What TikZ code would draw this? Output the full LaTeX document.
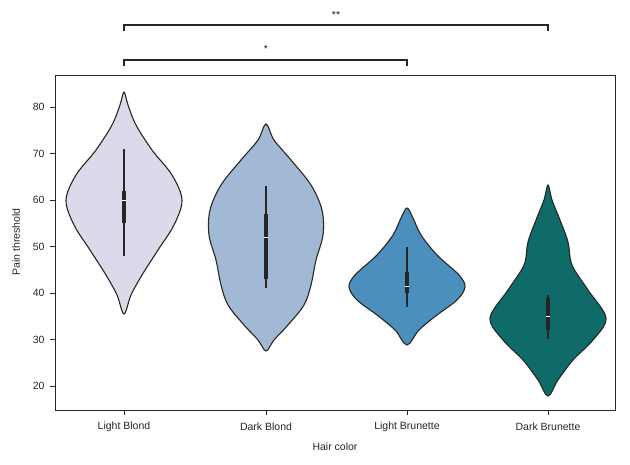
\documentclass[tikz,border=0pt]{standalone}
\usepackage{fontspec}
\setmainfont{Liberation Sans}
\definecolor{c1}{HTML}{DCDAEA}
\definecolor{c2}{HTML}{A1B9D4}
\definecolor{c3}{HTML}{4B90BC}
\definecolor{c4}{HTML}{0E6B68}
\definecolor{ink}{HTML}{262626}
\tikzset{violin/.style={draw=ink,line width=1.1pt,smooth cycle,tension=0.55},
 whisk/.style={ink,line width=1.4pt},
 iqr/.style={ink,line width=4.5pt},
 med/.style={white,line width=1pt},
 lab/.style={font=\fontsize{10.5}{12}\selectfont,text=ink},
 brk/.style={ink,line width=1.1pt}}
\begin{document}
\begin{tikzpicture}[x=1pt,y=-1pt]
\useasboundingbox (0,0) rectangle (630,464);
% violins
\fill[c1] plot[smooth cycle,tension=0.55] coordinates {(124,92)(128,105)(136,125)(152,150)(172,175)(182,200)(174,225)(158,250)(142,275)(131,295)(124,314)(117,295)(106,275)(90,250)(74,225)(66,200)(76,175)(96,150)(112,125)(120,105)};
\draw[violin] plot coordinates {(124,92)(128,105)(136,125)(152,150)(172,175)(182,200)(174,225)(158,250)(142,275)(131,295)(124,314)(117,295)(106,275)(90,250)(74,225)(66,200)(76,175)(96,150)(112,125)(120,105)};
\fill[c2] plot[smooth cycle,tension=0.55] coordinates {(266,124)(274,140)(291,160)(311,185)(322,210)(323,235)(316,260)(311,285)(304,305)(288,325)(274,340)(266,351)(258,340)(244,325)(228,305)(221,285)(216,260)(209,235)(210,210)(221,185)(241,160)(258,140)};
\draw[violin] plot coordinates {(266,124)(274,140)(291,160)(311,185)(322,210)(323,235)(316,260)(311,285)(304,305)(288,325)(274,340)(266,351)(258,340)(244,325)(228,305)(221,285)(216,260)(209,235)(210,210)(221,185)(241,160)(258,140)};
\fill[c3] plot[smooth cycle,tension=0.55] coordinates {(407,208)(413,218)(421,235)(437,255)(459,275)(465,287)(457,300)(437,315)(419,330)(407,345)(395,330)(377,315)(357,300)(349,287)(355,275)(377,255)(393,235)(401,218)};
\draw[violin] plot coordinates {(407,208)(413,218)(421,235)(437,255)(459,275)(465,287)(457,300)(437,315)(419,330)(407,345)(395,330)(377,315)(357,300)(349,287)(355,275)(377,255)(393,235)(401,218)};
\fill[c4] plot[smooth cycle,tension=0.55] coordinates {(548,185)(552,200)(560,220)(568,242)(572,265)(588,290)(606,318)(593,340)(573,360)(558,380)(548,396)(538,380)(523,360)(503,340)(490,318)(508,290)(524,265)(528,242)(536,220)(544,200)};
\draw[violin] plot coordinates {(548,185)(552,200)(560,220)(568,242)(572,265)(588,290)(606,318)(593,340)(573,360)(558,380)(548,396)(538,380)(523,360)(503,340)(490,318)(508,290)(524,265)(528,242)(536,220)(544,200)};
% boxes
\foreach \cx/\wl/\wh/\bl/\bh/\m in {124/256/149/223/191/200, 266/288/186/279/214/237, 407/307/247/293/272/286, 548/339/295/330/298/316}{
 \draw[whisk] (\cx,\wl) -- (\cx,\wh);
 \draw[iqr] (\cx,\bl) -- (\cx,\bh);
 \draw[med] (\cx-2,\m) -- (\cx+2,\m);
}
% axes
\draw[ink,line width=0.8pt] (55,75) rectangle (615,410);
\foreach \v in {20,30,...,80}{
 \draw[ink,line width=0.8pt] (55,479-4.65*\v) -- (50,479-4.65*\v);
 \node[lab,anchor=east] (yt\v) at (48,479-4.65*\v) {\v};
}
\foreach \cx/\t [count=\i] in {124/Light Blond,266/Dark Blond,407/Light Brunette,548/Dark Brunette}{
 \draw[ink,line width=0.8pt] (\cx,410) -- (\cx,415);
 \node[lab] (xt\i) at (\cx,427) {\t};
}
\node[lab] (xl) at (335,447) {Hair color};
\node[lab,rotate=90] (yl) at (16,242) {Pain threshold};
% brackets
\draw[brk] (124,66) -- (124,60) -- (407,60) -- (407,66);
\node[lab] (s1) at (266,49) {*};
\draw[brk] (124,31) -- (124,25) -- (548,25) -- (548,31);
\node[lab] (s2) at (336,15) {**};
\end{tikzpicture}
\end{document}
